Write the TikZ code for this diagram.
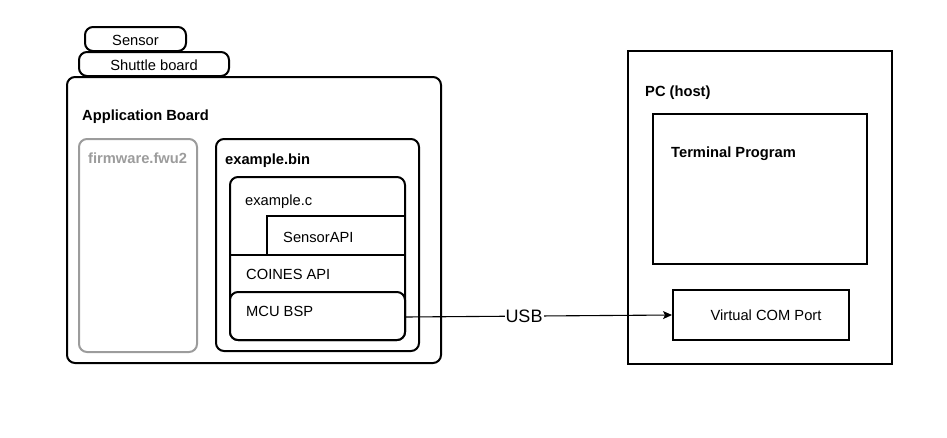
\documentclass[tikz,border=0pt]{standalone}
\usepackage{fontspec}
\setmainfont{Liberation Sans}
\usetikzlibrary{arrows.meta}
\definecolor{fwgray}{HTML}{9C9C9C}
\begin{document}
\begin{tikzpicture}[x=1pt,y=-1pt,
  every node/.style={font=\fontsize{14.7}{17}\selectfont},
  rbox/.style={draw, line width=2pt, rounded corners=8pt},
  sbox/.style={draw, line width=2pt},
  lbl/.style={anchor=base west, inner sep=0pt},
  blbl/.style={anchor=base west, inner sep=0pt, font=\fontsize{14.7}{17}\selectfont\bfseries},
  clbl/.style={anchor=base, inner sep=0pt}]
\useasboundingbox (0,0) rectangle (947,437);
% boxes
\draw[rbox] (85,27) rectangle (186,51);
\node[clbl] (sensor) at (135.5,45.5) {Sensor};
\draw[rbox] (79,52) rectangle (229,76);
\node[clbl] (shuttle) at (154,70) {Shuttle board};
\draw[rbox] (67,77) rectangle (441,363);
\node[blbl] (appb) at (82,120) {Application Board};
\draw[rbox, draw=fwgray] (79,139) rectangle (197,352);
\node[blbl, text=fwgray] (fw) at (88,163) {firmware.fwu2};
\draw[rbox] (216,139) rectangle (419,351);
\node[blbl] (ebin) at (225,164) {example.bin};
\draw[rbox] (230,177) rectangle (405,340);
\node[lbl] (ec) at (245,205) {example.c};
\draw[sbox] (405,216) -- (267,216) -- (267,255);
\node[lbl] (sapi) at (283,242) {SensorAPI};
\draw[sbox] (230,255) -- (405,255);
\node[lbl] (coines) at (246,279) {COINES API};
\draw[rbox, fill=white] (230,292) rectangle (405,340);
\node[lbl] (mcutxt) at (246,316) {MCU BSP};
\coordinate (mcu) at (405,317);
% PC
\draw[sbox] (628,51) rectangle (892,364);
\node[blbl] (pc) at (645,96) {PC (host)};
\draw[sbox] (653,114) rectangle (867,264);
\node[blbl] (term) at (671,157) {Terminal Program};
\node[sbox, minimum width=176pt, minimum height=50pt, inner sep=0pt, anchor=north west] (vcom) at (672,289) {};
\node[clbl] (vcomtxt) at (766,320) {Virtual COM Port};
% connector
\draw[line width=1.1pt, -{Stealth[length=9pt,width=8pt,inset=2pt]}] (mcu) -- (vcom.west);
\node[fill=white, inner sep=1pt, font=\fontsize{18}{20}\selectfont] (usb) at (524,316) {USB};
\end{tikzpicture}
\end{document}
